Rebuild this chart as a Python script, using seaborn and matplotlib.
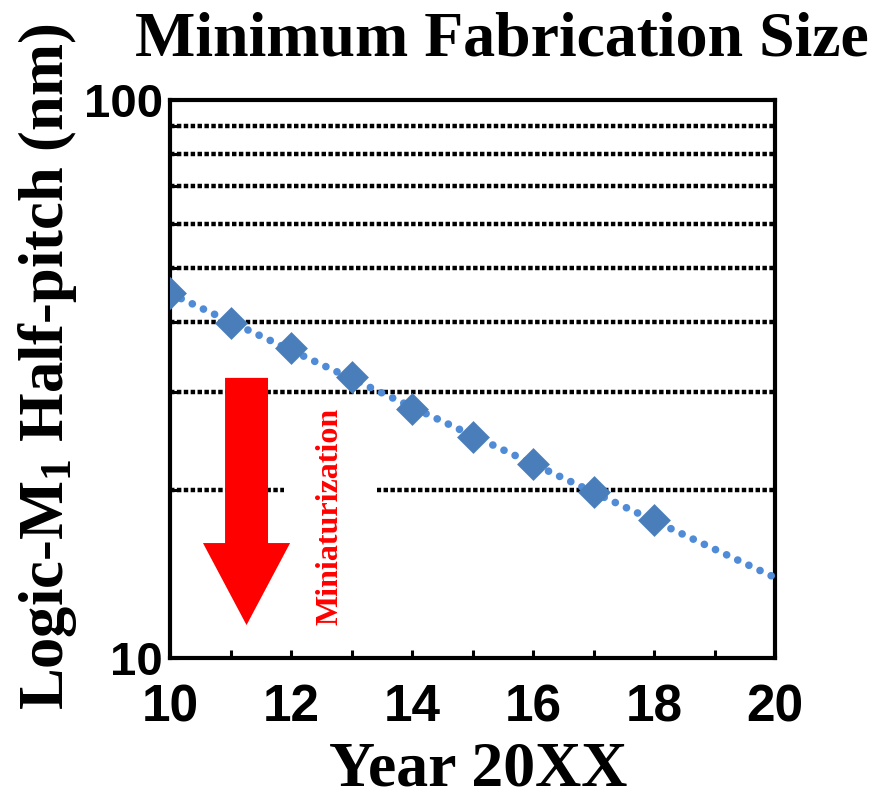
import numpy as np
import pandas as pd
import seaborn as sns
import matplotlib
matplotlib.use("Agg")
import matplotlib.pyplot as plt
from matplotlib.patches import FancyArrow, Rectangle
from matplotlib.ticker import MultipleLocator, FixedLocator, NullFormatter

# data
years = [10, 11, 12, 13, 14, 15, 16, 17, 18]
half_pitch = [45.1, 39.8, 35.9, 31.9, 27.9, 24.9, 22.3, 19.8, 17.7]
grid_levels = [20, 30, 40, 50, 60, 70, 80, 90]
x_ticks = [10, 12, 14, 16, 18, 20]
y_ticks = [10, 100]
y_ticklabels = ["10", "100"]

sns.set_theme(style="white")
plt.rcParams["font.family"] = ["Liberation Serif", "DejaVu Serif"]
plt.rcParams["text.color"] = "black"
plt.rcParams["xtick.color"] = "black"
plt.rcParams["ytick.color"] = "black"
plt.rcParams["mathtext.fontset"] = "custom"
plt.rcParams["mathtext.rm"] = "Liberation Serif:bold"
plt.rcParams["mathtext.it"] = "Liberation Serif:bold"
plt.rcParams["mathtext.bf"] = "Liberation Serif:bold"

df = pd.DataFrame({"year": years, "pitch": half_pitch})

# exponential trendline (straight on log axis), extended to 2020
k, b = np.polyfit(df["year"], np.log10(df["pitch"]), 1)
trend = pd.DataFrame({"year": np.arange(10, 21)})
trend["pitch"] = 10 ** (k * trend["year"] + b)

fig = plt.figure(figsize=(8.77, 8.02), dpi=100)
ax = fig.add_axes([170 / 877, 1 - 658 / 802, 605 / 877, 558 / 802])
ax.set_yscale("log")

for g in grid_levels:
    ax.axhline(g, color="black", lw=3.2, ls=(0, (1.0, 0.55)), zorder=1)

# white box behind the label
ax.add_patch(Rectangle((0.189, 0.03), 0.153, 0.43, transform=ax.transAxes,
                       facecolor="white", edgecolor="none", zorder=2))

sns.lineplot(data=trend, x="year", y="pitch", ax=ax, color="#4F8BD6", lw=5.5,
             ls=(0, (0.01, 1.6)), dash_capstyle="round", zorder=3)
sns.scatterplot(data=df, x="year", y="pitch", ax=ax, marker="D", s=280,
                color="#4A7EBB", edgecolor="#4A7EBB", linewidth=0, zorder=4)

ax.add_patch(FancyArrow(0.1265, 0.502, 0, -0.443, width=0.071, head_width=0.144,
                        head_length=0.147, length_includes_head=True,
                        transform=ax.transAxes, color="#FF0000", lw=0, zorder=5))
ax.text(0.265, 0.253, "Miniaturization", transform=ax.transAxes, rotation=90,
        color="#FF0000", fontsize=23, fontweight="bold", ha="center", va="center",
        zorder=6)

ax.set_xlim(10, 20)
ax.set_ylim(10, 100)
ax.set_xticks(x_ticks)
ax.xaxis.set_minor_locator(MultipleLocator(1))
ax.set_yticks(y_ticks, y_ticklabels)
ax.yaxis.set_minor_locator(FixedLocator(grid_levels))
ax.yaxis.set_minor_formatter(NullFormatter())
ax.tick_params(axis="both", which="both", direction="in", width=2.2, length=6,
               left=True, bottom=True, right=False, top=False)
ax.tick_params(axis="x", which="major", pad=18)
ax.tick_params(axis="y", which="major", pad=5)
for lab in ax.get_xticklabels():
    lab.set_fontfamily("Liberation Sans")
    lab.set_fontweight("bold")
    lab.set_fontsize(37)
for lab in ax.get_yticklabels():
    lab.set_fontfamily("Liberation Sans")
    lab.set_fontweight("bold")
    lab.set_fontsize(34)
for s in ax.spines.values():
    s.set_linewidth(3)
    s.set_color("black")
ax.set_xlabel("")
ax.set_ylabel("")

fig.text(502 / 877, 1 - 55 / 802, "Minimum Fabrication Size", fontsize=46,
         fontweight="bold", ha="center", va="baseline")
fig.text(48 / 877, 1 - 367 / 802, "Logic-M$_1$ Half-pitch (nm)", fontsize=45,
         fontweight="bold", ha="center", va="center", rotation=90)
fig.text(478 / 877, 2 / 802, "Year 20XX", fontsize=46,
         fontweight="bold", ha="center", va="bottom")

fig.savefig("out.png", dpi=100)
